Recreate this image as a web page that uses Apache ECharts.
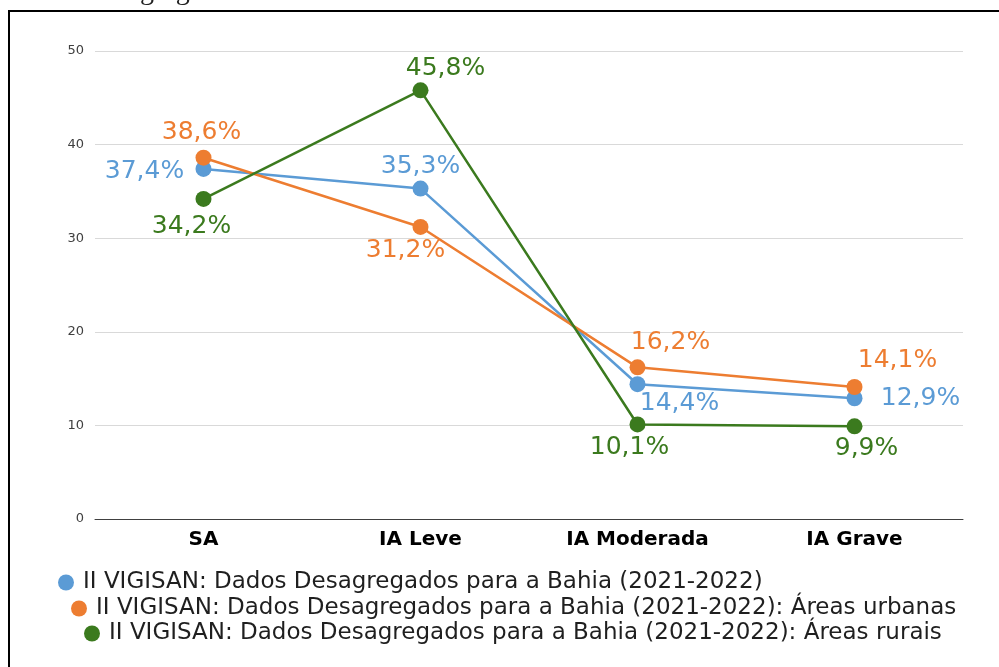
<!DOCTYPE html>
<html>
<head>
<meta charset="utf-8">
<script src="https://cdn.jsdelivr.net/npm/echarts@6/dist/echarts.min.js"></script>
<style>
    html, body {margin: 0; padding: 0; background: #fff;}
    #chart {width: 999px; height: 667px;}
</style>
</head>
<body>
<div id="chart"></div>
<script>
// categorias
const categories = ['SA', 'IA Leve', 'IA Moderada', 'IA Grave'];
const yTicks = [0, 10, 20, 30, 40, 50];

// séries
const seriesNames = [
    'II VIGISAN: Dados Desagregados para a Bahia (2021-2022)',
    'II VIGISAN: Dados Desagregados para a Bahia (2021-2022): Áreas urbanas',
    'II VIGISAN: Dados Desagregados para a Bahia (2021-2022): Áreas rurais',
];
const bahiaValues = [37.4, 35.3, 14.4, 12.9];
const urbanValues = [38.6, 31.2, 16.2, 14.1];
const ruralValues = [34.2, 45.8, 10.1, 9.9];

const colors = ['#5B9BD5', '#ED7D31', '#3B7A1E'];

// deslocamento do rótulo em relação ao ponto
const bahiaLabelOffset = [[-59, 3], [0, -22], [42, 19], [66, 0]];
const urbanLabelOffset = [[-2, -25], [-15, 24], [33, -25], [43, -27]];
const ruralLabelOffset = [[-12, 28], [25, -22], [-8, 23], [12, 22]];

const fmt = v => v.toFixed(1).replace('.', ',') + '%';

const buildData = (values, offsets) => values.map((v, i) => ({
    value: v,
    label: {offset: offsets[i]}
}));

const makeSeries = (idx, values, offsets) => ({
    name: seriesNames[idx],
    type: 'line',
    data: buildData(values, offsets),
    symbol: 'circle',
    symbolSize: 16,
    lineStyle: {width: 2.5, color: colors[idx]},
    itemStyle: {color: colors[idx]},
    label: {
        show: true,
        position: 'inside',
        align: 'center',
        verticalAlign: 'middle',
        color: colors[idx],
        fontFamily: 'DejaVu Sans',
        fontSize: 25,
        formatter: p => fmt(p.value)
    },
    emphasis: {disabled: true},
    z: 3 + idx
});

const makeLegend = (idx, left, top) => ({
    data: [seriesNames[idx]],
    left: left,
    top: top,
    padding: 0,
    orient: 'horizontal',
    icon: 'circle',
    itemWidth: 24,
    itemHeight: 16,
    textStyle: {fontFamily: 'DejaVu Sans', fontSize: 23, color: '#1f1f1f'},
    selectedMode: false
});

const chart = echarts.init(document.getElementById('chart'));
chart.setOption({
    animation: false,
    color: colors,
    grid: {left: 95, right: 36, top: 51, bottom: 148},
    legend: [
        makeLegend(0, 58, 571),
        makeLegend(1, 71, 597),
        makeLegend(2, 84, 622)
    ],
    xAxis: {
        type: 'category',
        data: categories,
        boundaryGap: true,
        axisLine: {lineStyle: {color: '#404040', width: 1}},
        axisTick: {show: false},
        axisLabel: {
            margin: 11,
            fontFamily: 'DejaVu Sans',
            fontWeight: 'bold',
            fontSize: 20,
            color: '#000'
        }
    },
    yAxis: {
        type: 'value',
        min: yTicks[0],
        max: yTicks[yTicks.length - 1],
        interval: 10,
        axisLine: {show: false},
        axisTick: {show: false},
        splitLine: {lineStyle: {color: '#d9d9d9', width: 1}},
        axisLabel: {
            margin: 11,
            fontFamily: 'DejaVu Sans',
            fontSize: 13,
            color: '#404040'
        }
    },
    graphic: [
        {
            type: 'rect',
            shape: {x: 9, y: 11, width: 1100, height: 800},
            style: {fill: 'none', stroke: '#000', lineWidth: 2},
            silent: true
        },
        {
            type: 'text',
            left: 18,
            top: -22,
            style: {
                text: 'dados desagregados.',
                fontFamily: 'Liberation Serif',
                fontSize: 28,
                fill: '#222'
            },
            silent: true
        }
    ],
    series: [
        makeSeries(0, bahiaValues, bahiaLabelOffset),
        makeSeries(1, urbanValues, urbanLabelOffset),
        makeSeries(2, ruralValues, ruralLabelOffset)
    ]
});
</script>
</body>
</html>
